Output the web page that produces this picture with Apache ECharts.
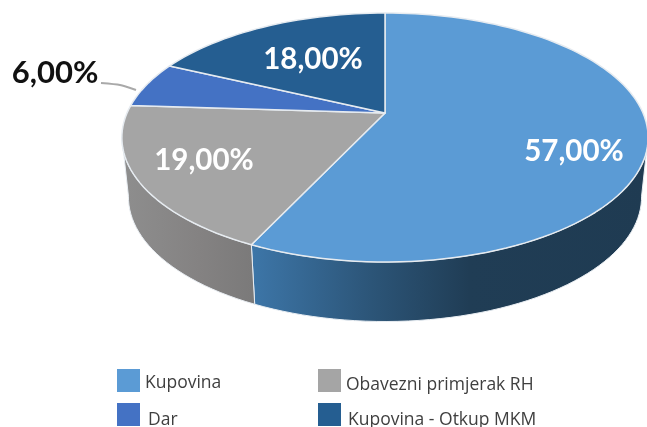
<!DOCTYPE html>
<html>
<head>
<meta charset="utf-8">
<script src="https://cdn.jsdelivr.net/npm/echarts@6/dist/echarts.min.js"></script>
<style>
  html, body { margin: 0; padding: 0; background: #fff; }
  #chart { width: 647px; height: 427px; }
</style>
</head>
<body>
<div id="chart"></div>
<script>
var categories = ['Kupovina', 'Obavezni primjerak RH', 'Dar', 'Kupovina - Otkup MKM'];
var shares = [57, 19, 6, 18];
var colors = ['#5b9bd5', '#a5a5a5', '#4472c4', '#255e91'];

// where the label of each slice sits on the page
var labelPos = [[574, 151], [204, 160], [55, 73], [313, 59]];
var labelColors = ['#fff', '#fff', '#111', '#fff'];
var labelSizes = [29.5, 29.5, 31, 29.5];
var wallStops = [
  [[0, '#3d76a8'], [0.3, '#2c5578'], [0.55, '#203d55'], [1, '#1f3b52']],
  [[0, '#8e8e8e'], [0.6, '#848282'], [1, '#7b7a7a']],
  null,
  null
];

// tilted disc, projected with a bit of perspective
var apexX = 385, apexY = 113;
var radiusX = 258, persp = 0.1968, ay = -97.44;
var depth = 59.5, lowerScale = 0.975;
var wallFrom = 101, wallTo = 259;

function rim(deg) {
  var a = deg * Math.PI / 180;
  var u = Math.sin(a), v = Math.cos(a);
  var w = 1 + persp * v;
  return [apexX + radiusX * u / w, (ay * v + apexY) / w];
}

function arcPoints(from, to, dy, sx) {
  var pts = [];
  var n = Math.max(2, Math.ceil((to - from) / 2));
  for (var i = 0; i <= n; i++) {
    var p = rim(from + (to - from) * i / n);
    pts.push([apexX + (p[0] - apexX) * sx, p[1] + dy]);
  }
  return pts;
}

function startAngle(idx) {
  var total = shares.reduce(function (a, b) { return a + b; }, 0);
  var sum = 0;
  for (var i = 0; i < idx; i++) sum += shares[i];
  return sum / total * 360;
}

function makeRender(idx) {
  return function (params, api) {
    var from = startAngle(idx);
    var to = from + api.value(0) / 100 * 360;
    var children = [];

    var a = Math.max(from, wallFrom), b = Math.min(to, wallTo);
    if (b > a && wallStops[idx]) {
      var upper = arcPoints(a, b, 0, 1);
      var lower = arcPoints(a, b, depth, lowerScale).reverse();
      var xs = upper.map(function (p) { return p[0]; });
      children.push({
        type: 'polygon',
        shape: { points: upper.concat(lower) },
        style: {
          fill: {
            type: 'linear', global: true,
            x: Math.min.apply(null, xs), y: 0, x2: Math.max.apply(null, xs), y2: 0,
            colorStops: wallStops[idx].map(function (s) { return { offset: s[0], color: s[1] }; })
          },
          stroke: '#e9eef3', lineWidth: 1
        }
      });
    }

    children.push({
      type: 'polygon',
      shape: { points: [[apexX, apexY]].concat(arcPoints(from, to, 0, 1)) },
      style: { fill: colors[idx], stroke: '#e6ebf0', lineWidth: 1.5, lineJoin: 'round' }
    });

    // Dar has its label outside the disc
    if (idx === 2) {
      children.push({
        type: 'polyline',
        shape: { points: [[101, 83], [120, 85], [136, 90]], smooth: 0.2 },
        style: { fill: null, stroke: '#a9a9a9', lineWidth: 2 }
      });
    }

    children.push({
      type: 'text',
      z2: 10,
      style: {
        text: api.value(0).toFixed(2).replace('.', ',') + '%',
        x: labelPos[idx][0], y: labelPos[idx][1],
        fill: labelColors[idx],
        font: 'bold ' + labelSizes[idx] + 'px Lato',
        align: 'center', verticalAlign: 'middle'
      }
    });
    return { type: 'group', children: children };
  };
}

var chart = echarts.init(document.getElementById('chart'), null, { renderer: 'canvas' });

var legendSpots = [
  { left: 117, top: 369, pad: [5, 0, 0, 0] },
  { left: 318, top: 369, pad: [10, 0, 0, 0] },
  { left: 117, top: 403, pad: [11, 0, 0, 3] },
  { left: 318, top: 403, pad: [11, 0, 0, 2] }
];

chart.setOption({
  animation: false,
  backgroundColor: '#fff',
  legend: categories.map(function (name, i) {
    return {
      data: [name],
      left: legendSpots[i].left,
      top: legendSpots[i].top,
      padding: 0,
      icon: 'rect',
      itemWidth: 23,
      itemHeight: 23,
      itemGap: 0,
      selectedMode: false,
      formatter: '{t|{name}}',
      textStyle: {
        color: '#3f3f3f',
        rich: {
          t: {
            color: '#3f3f3f',
            fontFamily: 'Open Sans',
            fontSize: 17.5,
            padding: legendSpots[i].pad
          }
        }
      }
    };
  }),
  series: categories.map(function (name, i) {
    return {
      type: 'custom',
      name: name,
      coordinateSystem: 'none',
      itemStyle: { color: colors[i] },
      renderItem: makeRender(i),
      silent: true,
      data: [[shares[i]]]
    };
  })
});
</script>
</body>
</html>
